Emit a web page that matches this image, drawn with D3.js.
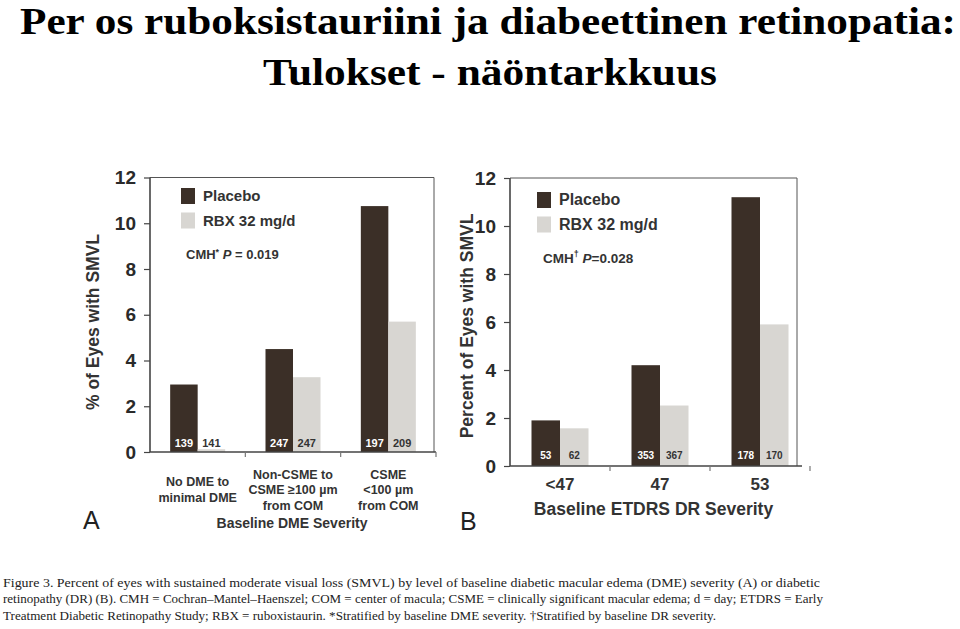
<!DOCTYPE html>
<html>
<head>
<meta charset="utf-8">
<script src="https://cdn.jsdelivr.net/npm/d3@7"></script>
<style>
  html, body { margin: 0; padding: 0; background: #fff; }
  svg { display: block; }
</style>
</head>
<body>
<svg id="chart" width="960" height="629"></svg>
<script>
// ---------- Data ----------
const titleLines = ["Per os ruboksistauriini ja diabeettinen retinopatia:", "Tulokset - näöntarkkuus"];
const seriesNames = ["Placebo", "RBX 32 mg/d"];
const yTicks = [0, 2, 4, 6, 8, 10, 12];

const categoriesA = [["No DME to", "minimal DME"], ["Non-CSME to", "CSME \u2265100 \u00b5m", "from COM"], ["CSME", "<100 \u00b5m", "from COM"]];
const placeboA = [2.95, 4.5, 10.75];
const rbxA = [0.12, 3.27, 5.7];
const nPlaceboA = [139, 247, 197];
const nRbxA = [141, 247, 209];

const categoriesB = ["<47", "47", "53"];
const placeboB = [1.9, 4.2, 11.2];
const rbxB = [1.57, 2.52, 5.9];
const nPlaceboB = [53, 353, 178];
const nRbxB = [62, 367, 170];

const captionLines = [
  "Figure 3. Percent of eyes with sustained moderate visual loss (SMVL) by level of baseline diabetic macular edema (DME) severity (A) or diabetic",
  "retinopathy (DR) (B). CMH = Cochran\u2013Mantel\u2013Haenszel; COM = center of macula; CSME = clinically significant macular edema; d = day; ETDRS = Early",
  "Treatment Diabetic Retinopathy Study; RBX = ruboxistaurin. *Stratified by baseline DME severity. \u2020Stratified by baseline DR severity."
];

// ---------- Styles ----------
const DARK = "#3b2f27", LIGHT = "#d8d6d2", INK = "#333", SANS = "'Liberation Sans', Arial, sans-serif";
const svg = d3.select("#chart");

// Title
svg.append("g").selectAll("text").data(titleLines).join("text")
  .attr("x", (d, i) => i === 0 ? 488 : 490)
  .attr("y", (d, i) => i === 0 ? 34 : 85)
  .attr("text-anchor", "middle")
  .attr("font-family", "'Liberation Serif', 'Times New Roman', serif")
  .attr("font-weight", "bold").attr("font-size", 38).attr("fill", "#000")
  .attr("textLength", (d, i) => i === 0 ? 936 : 454)
  .attr("lengthAdjust", "spacingAndGlyphs")
  .text(d => d);

// Caption
svg.append("g").selectAll("text").data(captionLines).join("text")
  .attr("x", 3).attr("y", (d, i) => 587 + i * 16.3)
  .attr("font-family", "'Liberation Serif', 'Times New Roman', serif")
  .attr("font-size", 12.5).attr("fill", "#222")
  .attr("textLength", (d, i) => [817, 820, 713][i])
  .attr("lengthAdjust", "spacingAndGlyphs")
  .text(d => d);

function panel(cfg) {
  const g = svg.append("g");
  const x = d3.scaleBand().domain(d3.range(cfg.values[0].length)).range([cfg.x0, cfg.x1]);
  const y = d3.scaleLinear().domain([0, 12]).range([cfg.y0, cfg.yTop]);
  const bw = x.bandwidth();
  const xs = d3.scaleBand().domain([0, 1]).range([bw / 2 - cfg.gw / 2, bw / 2 + cfg.gw / 2]);

  // frame (top & right)
  g.append("path")
    .attr("d", `M${cfg.x0},${cfg.yTop}H${cfg.frameRight}V${cfg.y0}`)
    .attr("fill", "none").attr("stroke", "#555").attr("stroke-width", 1);

  // bars
  cfg.values.forEach((vals, s) => {
    g.append("g").selectAll("rect").data(vals).join("rect")
      .attr("x", (d, i) => x(i) + xs(s))
      .attr("width", xs.bandwidth())
      .attr("y", d => y(d))
      .attr("height", d => y(0) - y(d))
      .attr("fill", s === 0 ? DARK : LIGHT);
    g.append("g").selectAll("text").data(cfg.counts[s]).join("text")
      .attr("x", (d, i) => x(i) + xs(s) + xs.bandwidth() / 2)
      .attr("y", cfg.y0 - cfg.countOffset)
      .attr("text-anchor", "middle")
      .attr("font-family", SANS).attr("font-weight", "bold")
      .attr("font-size", cfg.countSize)
      .attr("fill", s === 0 ? "#fff" : "#333")
      .text(d => d);
  });

  // y axis
  const ya = g.append("g").attr("transform", `translate(${cfg.x0},0)`)
    .call(d3.axisLeft(y).tickValues(yTicks).tickSize(6).tickPadding(8).tickFormat(d3.format("d")));
  ya.select(".domain").attr("d", `M0,${cfg.y0}V${cfg.yTop}`).attr("stroke", "#444").attr("stroke-width", 1.6);
  ya.selectAll(".tick line").attr("stroke", "#444").attr("stroke-width", 1.2);
  ya.selectAll(".tick text").attr("font-family", SANS).attr("font-weight", "bold")
    .attr("font-size", 19).attr("fill", "#2a2a2a");

  // x axis
  const xa = g.append("g").attr("transform", `translate(0,${cfg.y0})`)
    .call(d3.axisBottom(x).tickSize(0).tickFormat(""));
  xa.select(".domain").attr("d", `M${cfg.x0},0H${cfg.axisRight}`).attr("stroke", "#444").attr("stroke-width", 1.6);
  g.append("g").selectAll("line").data(d3.range(1, cfg.values[0].length + 1)).join("line")
    .attr("x1", i => x(i - 1) + bw).attr("x2", i => x(i - 1) + bw)
    .attr("y1", cfg.y0).attr("y2", cfg.y0 + 5)
    .attr("stroke", "#777").attr("stroke-width", 1.2);

  // category labels
  cfg.catLabels(g, x, bw);

  // axis titles
  g.append("text").attr("x", (cfg.x0 + cfg.frameRight) / 2).attr("y", cfg.xTitleY)
    .attr("text-anchor", "middle").attr("font-family", SANS).attr("font-weight", "bold")
    .attr("font-size", cfg.xTitleSize).attr("fill", INK).text(cfg.xTitle);
  g.append("text").attr("transform", `translate(${cfg.yTitleX},${cfg.yTitleY}) rotate(-90)`)
    .attr("text-anchor", "middle").attr("font-family", SANS).attr("font-weight", "bold")
    .attr("font-size", cfg.yTitleSize).attr("fill", INK).text(cfg.yTitle);

  // panel letter
  g.append("text").attr("x", cfg.letterX).attr("y", cfg.letterY)
    .attr("font-family", SANS).attr("font-size", 25).attr("fill", "#222").text(cfg.letter);

  // legend
  seriesNames.forEach((name, i) => {
    g.append("rect").attr("x", cfg.legX).attr("y", cfg.legY + i * cfg.legStep)
      .attr("width", 14).attr("height", 16).attr("fill", i === 0 ? DARK : LIGHT);
    g.append("text").attr("x", cfg.legX + 22).attr("y", cfg.legY + i * cfg.legStep + 13)
      .attr("font-family", SANS).attr("font-weight", "bold").attr("font-size", cfg.legSize)
      .attr("fill", INK).text(name);
  });
  cfg.cmh(g);
}

panel({
  values: [placeboA, rbxA], counts: [nPlaceboA, nRbxA],
  x0: 150, x1: 436, frameRight: 434, axisRight: 436, y0: 452, yTop: 177.5, gw: 55,
  countOffset: 5, countSize: 11,
  xTitle: "Baseline DME Severity", xTitleY: 528, xTitleSize: 14,
  yTitle: "% of Eyes with SMVL", yTitleX: 99, yTitleY: 322, yTitleSize: 17.5,
  letter: "A", letterX: 83, letterY: 529,
  legX: 181, legY: 188, legStep: 24.5, legSize: 15,
  catLabels: (g, x, bw) => {
    categoriesA.forEach((lines, i) => {
      const startY = 490 - (lines.length - 1) * 15.5 / 2 + 4;
      g.append("g").selectAll("text").data(lines).join("text")
        .attr("x", x(i) + bw / 2).attr("y", (d, k) => startY + k * 15.5)
        .attr("text-anchor", "middle").attr("font-family", SANS).attr("font-weight", "bold")
        .attr("font-size", 12.5).attr("fill", INK).text(d => d);
    });
  },
  cmh: g => {
    const t = g.append("text").attr("x", 186).attr("y", 259)
      .attr("font-family", SANS).attr("font-weight", "bold").attr("font-size", 13).attr("fill", INK);
    t.append("tspan").text("CMH");
    t.append("tspan").attr("font-size", 9).attr("dy", -4).text("*");
    t.append("tspan").attr("dy", 4).attr("font-style", "italic").text(" P");
    t.append("tspan").text(" = 0.019");
  }
});

panel({
  values: [placeboB, rbxB], counts: [nPlaceboB, nRbxB],
  x0: 510, x1: 810, frameRight: 797, axisRight: 802, y0: 466, yTop: 178, gw: 57,
  countOffset: 7, countSize: 10,
  xTitle: "Baseline ETDRS DR Severity", xTitleY: 515, xTitleSize: 17.5,
  yTitle: "Percent of Eyes with SMVL", yTitleX: 473, yTitleY: 326, yTitleSize: 17.5,
  letter: "B", letterX: 460, letterY: 530,
  legX: 537, legY: 192, legStep: 24.5, legSize: 16,
  catLabels: (g, x, bw) => {
    g.append("g").selectAll("text").data(categoriesB).join("text")
      .attr("x", (d, i) => x(i) + bw / 2).attr("y", 490)
      .attr("text-anchor", "middle").attr("font-family", SANS).attr("font-weight", "bold")
      .attr("font-size", 17).attr("fill", INK).text(d => d);
  },
  cmh: g => {
    const t = g.append("text").attr("x", 543).attr("y", 263)
      .attr("font-family", SANS).attr("font-weight", "bold").attr("font-size", 13.5).attr("fill", INK);
    t.append("tspan").text("CMH");
    t.append("tspan").attr("font-size", 9).attr("dy", -6).text("\u2020");
    t.append("tspan").attr("dy", 6).attr("font-style", "italic").text(" P");
    t.append("tspan").text("=0.028");
  }
});
</script>
</body>
</html>
